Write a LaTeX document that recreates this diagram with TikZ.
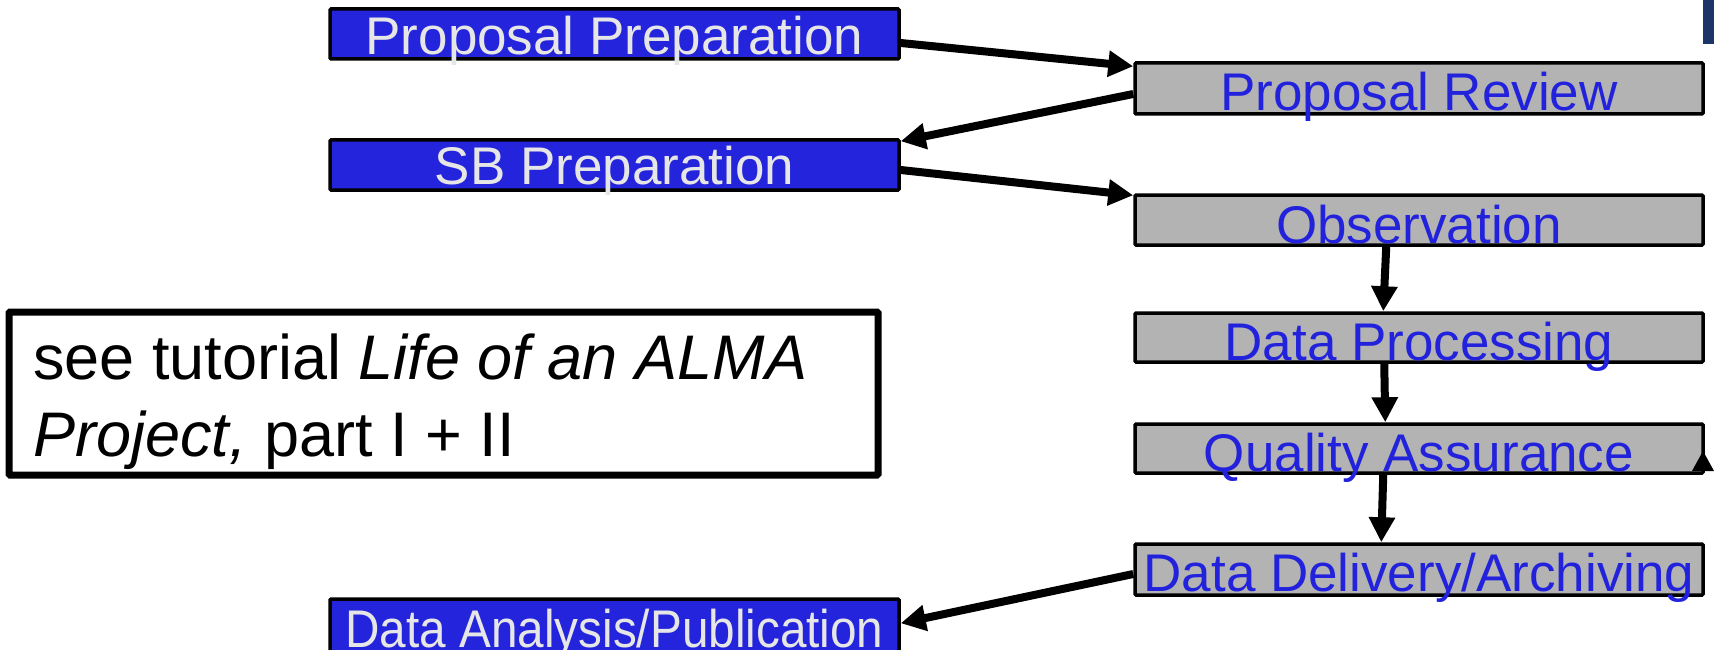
\documentclass[tikz,border=0pt]{standalone}
\usepackage{fontspec}
\setmainfont{Liberation Sans}
\usetikzlibrary{arrows.meta}
\definecolor{boxblue}{RGB}{36,36,221}
\definecolor{linkblue}{RGB}{34,34,221}
\definecolor{lightgray}{RGB}{230,230,230}
\definecolor{boxgray}{RGB}{179,179,179}
\definecolor{navy}{RGB}{28,52,102}
\begin{document}
\begin{tikzpicture}[x=1pt,y=-1pt,
  basebox/.style={draw=black, line width=3.5pt, rounded corners=1pt, inner sep=0pt,
    font=\fontsize{53pt}{60pt}\selectfont},
  bluebox/.style={basebox, fill=boxblue, text=lightgray, minimum width=569pt},
  graybox/.style={basebox, fill=boxgray, text=linkblue, minimum width=568pt},
  arr/.style={line width=8pt, -{Triangle[length=25pt,width=25pt]}},
  notebox/.style={draw=black, line width=7pt, rounded corners=1pt, minimum width=869pt, minimum height=163pt},
  notetext/.style={font=\fontsize{63pt}{77pt}\selectfont, align=left, inner sep=0pt}
]
\useasboundingbox (0,0) rectangle (1714,650);

% left blue boxes
\node[bluebox, minimum height=50pt, text height=46pt, text depth=4pt] (pp) at (614.5,34) {Proposal Preparation};
\node[bluebox, minimum height=50pt, text height=45pt, text depth=5pt] (sb) at (614.5,165) {SB Preparation};
\node[bluebox, minimum height=61pt, text height=48pt, text depth=13pt] (da) at (614.5,629.5) {\scalebox{0.9}[1]{Data Analysis/Publication}};

% right gray boxes
\node[graybox, minimum height=51pt, text height=48pt, text depth=3pt] (pr) at (1419,88.5) {Proposal Review};
\node[graybox, minimum height=50pt, text height=48pt, text depth=2pt] (obs) at (1419,220) {Observation};
\node[graybox, minimum height=49pt, text height=47pt, text depth=2pt] (dp) at (1419,337.5) {Data Processing};
\node[graybox, minimum height=49pt, text height=47pt, text depth=2pt] (qa) at (1419,448.5) {Quality Assurance};
\node[graybox, minimum height=51pt, text height=47pt, text depth=4pt] (dd) at (1419,569.5) {Data Delivery/Archiving};

% note box
\node[notebox] (note) at (443.5,393.5) {};
\node[notetext, anchor=base west] (notetxt) at (33,456) {see tutorial \textit{Life of an ALMA}\\\textit{Project,} part I + II};

% connectors
\draw[arr] ([yshift=-9pt]pp.east) -- ([yshift=-5pt]pr.north west);
\draw[arr] ([yshift=-5.5pt]pr.west) -- ([yshift=-3pt]sb.north east);
\draw[arr] ([yshift=-5pt]sb.east) -- ([yshift=-2pt]obs.north west);
\draw[arr] ([xshift=253pt]obs.south west) -- ([xshift=250pt]dp.north west);
\draw[arr] ([xshift=251pt]dp.south west) -- ([xshift=252pt]qa.north west);
\draw[arr] ([xshift=250pt]qa.south west) -- ([xshift=248pt]dd.north west);
\draw[arr] ([yshift=-4.5pt]dd.west) -- ([yshift=-26pt]da.north east);

% edge fragments
\fill[black] (1692,471) -- (1714,471) -- (1703,451) -- cycle;
\fill[navy] (1703,0) rectangle (1714,44);
\end{tikzpicture}
\end{document}
